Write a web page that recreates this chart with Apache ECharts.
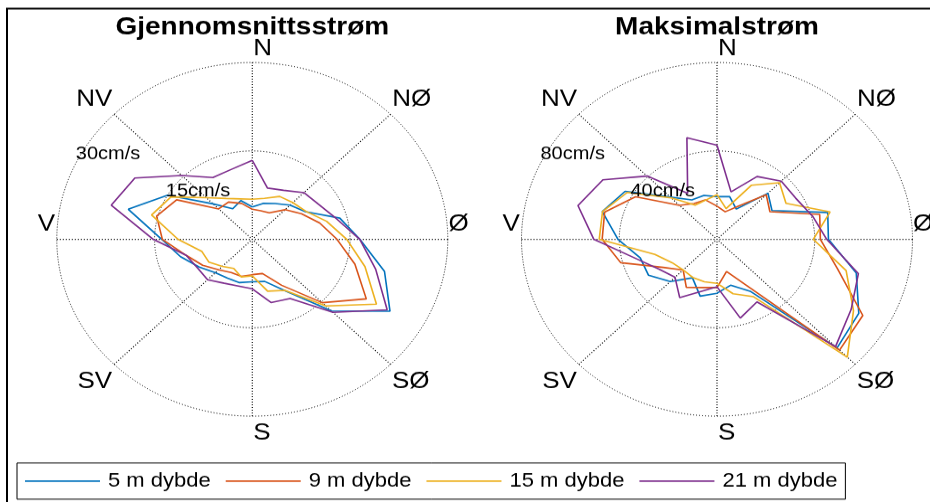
<!DOCTYPE html>
<html>
<head>
<meta charset="utf-8">
<script src="https://cdn.jsdelivr.net/npm/echarts@6/dist/echarts.min.js"></script>
<style>
html, body { margin: 0; padding: 0; background: #fff; overflow: hidden; }
#wrap { width: 930px; height: 502px; overflow: hidden; position: relative; background: #fff; }
#chart { width: 930px; height: 555px; transform: scaleY(0.9045); transform-origin: 0 0; }
</style>
</head>
<body>
<div id="wrap"><div id="chart"></div></div>
<script>
// Compass directions (degrees, clockwise from north)
const directions = [0, 15, 30, 45, 60, 75, 90, 105, 120, 135, 150, 165,
                    180, 195, 210, 225, 240, 255, 270, 285, 300, 315, 330, 345];

// Average current (cm/s)
const avg5  = [5.5, 6.3, 7.0, 8.2, 9.4, 13.9, 16.5, 21.0, 24.4, 17.2, 10.1, 7.4,
               7.2, 7.6, 7.6, 8.0, 9.4, 11.4, 13.9, 19.7, 15.0, 8.5, 6.0, 6.8];
const avg9  = [5.1, 5.0, 5.2, 7.1, 8.7, 10.7, 13.0, 16.3, 20.2, 15.2, 9.0, 6.0,
               6.0, 6.5, 6.5, 7.3, 8.8, 10.5, 13.8, 15.2, 13.4, 7.3, 7.3, 6.3];
const avg15 = [6.8, 7.2, 8.4, 8.8, 9.5, 11.8, 14.5, 17.9, 22.0, 16.0, 10.0, 9.1,
               6.2, 6.6, 5.7, 6.5, 7.7, 8.0, 11.4, 16.0, 14.4, 10.0, 8.0, 7.1];
const avg21 = [13.4, 9.0, 9.6, 11.2, 11.8, 13.4, 16.5, 19.6, 23.9, 17.5, 11.6, 11.1,
               8.4, 8.2, 8.6, 9.7, 9.7, 10.5, 15.2, 22.4, 20.8, 15.3, 12.1, 12.3];

// Maximum current (cm/s)
const max5  = [19.3, 20.0, 15.8, 29.5, 26.0, 46.9, 45.6, 59.0, 67.0, 69.5, 27.1, 21.5,
               24.4, 26.6, 20.1, 27.0, 32.4, 32.5, 40.5, 48.6, 43.4, 27.0, 20.6, 20.6];
const max9  = [15.0, 12.9, 17.3, 28.5, 25.0, 43.5, 42.3, 51.0, 68.9, 70.9, 24.0, 15.1,
               21.8, 22.6, 25.1, 19.6, 25.4, 40.8, 47.0, 47.6, 38.5, 21.7, 18.7, 18.5];
const max15 = [20.2, 14.4, 28.3, 36.2, 32.6, 47.9, 39.4, 54.7, 64.5, 75.4, 30.0, 25.5,
               19.9, 19.9, 19.9, 19.6, 21.2, 26.3, 48.2, 48.5, 42.4, 26.5, 17.9, 18.3];
const max21 = [42.6, 22.2, 32.8, 37.2, 37.2, 40.5, 44.9, 59.9, 63.4, 68.6, 32.7, 36.9,
               21.5, 24.3, 30.5, 24.3, 27.2, 34.1, 50.4, 58.9, 53.9, 40.5, 24.0, 47.6];

const seriesNames = ['5 m dybde', '9 m dybde', '15 m dybde', '21 m dybde'];
const colors = ['#0072BD', '#D95319', '#EDB120', '#7E2F8E'];
const titles = ['Gjennomsnittsstrøm', 'Maksimalstrøm'];
const compass = ['N', 'NØ', 'Ø', 'SØ', 'S', 'SV', 'V', 'NV'];
const ringLabels = [['15cm/s', '30cm/s'], ['40cm/s', '80cm/s']];
const radiusMax = [30, 80];

const S = 502 / 555;            // vertical squeeze of the canvas
const Y = y => y / S;           // screen y -> canvas y
const centersX = [252.3, 717];
const centerY = 239.3;
const R = 195.5;

function loop(vals) {
  const d = directions.map((a, i) => [vals[i], a]);
  d.push([vals[0], 360]);
  return d;
}

const groups = [[avg5, avg9, avg15, avg21], [max5, max9, max15, max21]];
const series = [];
groups.forEach((g, pi) => {
  g.forEach((vals, si) => {
    series.push({
      type: 'line', coordinateSystem: 'polar', polarIndex: pi,
      name: seriesNames[si], data: loop(vals), symbol: 'none', smooth: false,
      lineStyle: { color: colors[si], width: 1.6 }, itemStyle: { color: colors[si] },
      silent: true, z: 5
    });
  });
});

const font = '"Liberation Sans", Arial, Helvetica, sans-serif';
const graphic = [];
graphic.push({ type: 'rect', shape: { x: 7, y: Y(8.5), width: 980, height: 700 },
  style: { fill: 'none', stroke: '#000', lineWidth: 2 }, z: 100 });

// compass label offsets relative to polar centre (screen px)
const compassPos = [
  { dx: 1, y: 48.3, align: 'left' },
  { dx: 159.4, y: 99.1, align: 'center' },
  { dx: 206.2, y: 224.5, align: 'center' },
  { dx: 158.5, y: 381.7, align: 'center' },
  { dx: 1, y: 433, align: 'left' },
  { dx: -157.5, y: 381.7, align: 'center' },
  { dx: -205.8, y: 224.5, align: 'center' },
  { dx: -158, y: 99.3, align: 'center' }
];
centersX.forEach((cx, pi) => {
  graphic.push({ type: 'text', x: cx, y: Y(27.5), z: 100,
    style: { text: titles[pi], fontSize: 28, fontWeight: 'bold', fontFamily: font,
             fill: '#000', align: 'center', verticalAlign: 'middle' } });
  compass.forEach((c, i) => {
    const p = compassPos[i];
    graphic.push({ type: 'text', x: cx + p.dx, y: Y(p.y), z: 100,
      style: { text: c, fontSize: 26, fontFamily: font, fill: '#000',
               align: p.align, verticalAlign: 'middle' } });
  });
  graphic.push({ type: 'text', x: cx - 86.5, y: Y(191.7), z: 100,
    style: { text: ringLabels[pi][0], fontSize: 20, fontFamily: font, fill: '#000',
             align: 'left', verticalAlign: 'middle' } });
  graphic.push({ type: 'text', x: cx - 176.5, y: Y(154), z: 100,
    style: { text: ringLabels[pi][1], fontSize: 20, fontFamily: font, fill: '#000',
             align: 'left', verticalAlign: 'middle' } });
});

const dotted = { type: [1, 2], color: '#000', width: 1 };
const option = {
  animation: false,
  backgroundColor: '#fff',
  polar: centersX.map(cx => ({ center: [cx, Y(centerY)], radius: R })),
  angleAxis: [0, 1].map(pi => ({
    polarIndex: pi, type: 'value', min: 0, max: 360, interval: 45,
    startAngle: 90, clockwise: true,
    axisLine: { show: false }, axisTick: { show: false }, axisLabel: { show: false },
    splitLine: { show: true, lineStyle: { type: [1, 2], color: '#000', width: 1.2 } }
  })),
  radiusAxis: [0, 1].map(pi => ({
    polarIndex: pi, type: 'value', min: 0, max: radiusMax[pi], interval: radiusMax[pi] / 2,
    axisLine: { show: false }, axisTick: { show: false }, axisLabel: { show: false },
    splitLine: { show: true, lineStyle: dotted }
  })),
  legend: {
    left: 17, top: Y(463), orient: 'horizontal',
    data: seriesNames, icon: 'rect', itemWidth: 75, itemHeight: 1.8, itemGap: 15,
    padding: [9, 8, 9, 8], borderColor: '#000', borderWidth: 1,
    textStyle: { fontSize: 22, color: '#000', fontFamily: font, padding: [0, 0, 0, 3] },
    selectedMode: false
  },
  graphic: graphic,
  series: series
};

const chart = echarts.init(document.getElementById('chart'), null, { renderer: 'canvas' });
chart.setOption(option);
</script>
</body>
</html>
